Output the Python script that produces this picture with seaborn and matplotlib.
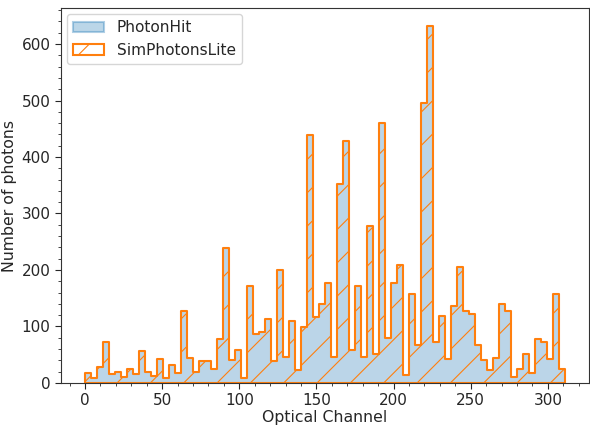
import numpy as np
import pandas as pd
import matplotlib
matplotlib.use("Agg")
import matplotlib.pyplot as plt
import seaborn as sns
from matplotlib.patches import Patch
from matplotlib.ticker import AutoMinorLocator

# Photon counts per histogram bin (80 bins over optical channels 0..311)
channel_min = 0
channel_max = 311
n_bins = 80
counts = [17, 8, 29, 72, 16, 20, 11, 25, 16, 57,
          20, 12, 43, 8, 32, 17, 128, 45, 20, 39,
          39, 25, 77, 239, 40, 58, 8, 171, 87, 90,
          113, 39, 200, 46, 110, 23, 99, 439, 116, 140,
          177, 46, 352, 429, 58, 172, 46, 277, 52, 461,
          79, 177, 208, 14, 157, 68, 495, 632, 73, 118,
          42, 136, 205, 128, 122, 68, 40, 23, 45, 140,
          127, 10, 24, 51, 18, 77, 73, 43, 157, 24]
series_labels = ["PhotonHit", "SimPhotonsLite"]

edges = np.linspace(channel_min, channel_max, n_bins + 1)
centers = (edges[:-1] + edges[1:]) / 2
df = pd.DataFrame({"channel": centers, "count": counts})
bin_edges = [float(e) for e in edges]

sns.set_style("ticks")
plt.rcParams["font.family"] = ["DejaVu Sans"]
plt.rcParams["hatch.linewidth"] = 0.8

fig = plt.figure(figsize=(5.9, 4.26), dpi=100)
ax = fig.add_axes([0.1034, 0.101, 0.8946, 0.880])

sns.histplot(data=df, x="channel", weights="count", bins=bin_edges,
             element="step", fill=True, color="C0", alpha=0.3,
             linewidth=0, ax=ax)
n_before = len(ax.collections)
sns.histplot(data=df, x="channel", weights="count", bins=bin_edges,
             element="step", fill=True, color="C1",
             hatch="/", linewidth=1.5, ax=ax)
for coll in ax.collections[n_before:]:
    coll.set_facecolor("none")
    coll.set_edgecolor("C1")
    coll.set_alpha(None)
    coll.set_linewidth(1.5)

ax.set_xlim(-15.55, 326.55)
ax.set_ylim(0, 663.6)
ax.set_xticks([0, 50, 100, 150, 200, 250, 300])
ax.set_yticks([0, 100, 200, 300, 400, 500, 600])
ax.xaxis.set_minor_locator(AutoMinorLocator(5))
ax.yaxis.set_minor_locator(AutoMinorLocator(5))
ax.tick_params(axis="both", which="major", labelsize=11, length=4)
ax.tick_params(axis="both", which="minor", length=2)
for s in ax.spines.values():
    s.set_color("#333333")
ax.set_xlabel("Optical Channel", fontsize=11.3, labelpad=1)
ax.set_ylabel("Number of photons", fontsize=11.3, labelpad=3)

handles = [
    Patch(facecolor=(0.12, 0.47, 0.71, 0.3), edgecolor=(0.12, 0.47, 0.71, 0.35), linewidth=1.5),
    Patch(facecolor="none", edgecolor="C1", hatch="/", linewidth=1.5),
]
ax.legend(handles=handles, labels=series_labels, loc="upper left", fontsize=11.1,
          handlelength=2.0, borderaxespad=0.4)

fig.savefig("out.png", dpi=100)
